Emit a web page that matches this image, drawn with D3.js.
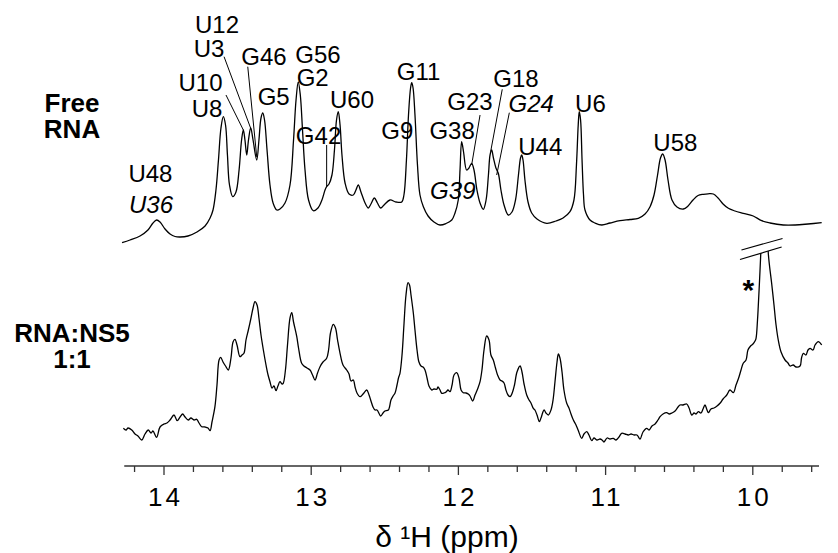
<!DOCTYPE html>
<html><head><meta charset="utf-8">
<script src="https://cdn.jsdelivr.net/npm/d3@7"></script>
<style>
html,body{margin:0;padding:0;background:#fff;}
svg text{font-family:"Liberation Sans",Arial,Helvetica,sans-serif;fill:#000;}
</style></head>
<body><svg id="c" width="838" height="553"></svg>
<script>
// ---------- DATA ----------
const ppmFree = [14.285,14.231,14.163,14.109,14.075,14.050,14.027,13.993,13.959,13.925,13.891,13.837,13.776,13.721,13.687,13.667,13.647,13.630,13.613,13.597,13.582,13.569,13.555,13.533,13.511,13.490,13.473,13.461,13.450,13.438,13.426,13.411,13.395,13.370,13.355,13.341,13.329,13.317,13.300,13.280,13.259,13.234,13.212,13.178,13.144,13.120,13.103,13.088,13.074,13.059,13.042,13.018,12.986,12.954,12.927,12.906,12.895,12.879,12.859,12.842,12.828,12.816,12.804,12.791,12.770,12.743,12.714,12.696,12.680,12.662,12.634,12.612,12.594,12.571,12.550,12.528,12.505,12.465,12.424,12.385,12.370,12.353,12.339,12.325,12.317,12.308,12.295,12.278,12.261,12.238,12.206,12.166,12.125,12.084,12.045,12.023,12.001,11.989,11.978,11.965,11.944,11.928,11.910,11.894,11.874,11.853,11.831,11.812,11.796,11.785,11.774,11.762,11.745,11.729,11.711,11.690,11.661,11.636,11.612,11.592,11.578,11.570,11.561,11.548,11.527,11.502,11.466,11.400,11.337,11.289,11.242,11.215,11.198,11.186,11.179,11.170,11.160,11.150,11.140,11.106,11.072,11.026,10.970,10.902,10.834,10.778,10.732,10.698,10.671,10.647,10.627,10.612,10.596,10.576,10.549,10.515,10.472,10.440,10.406,10.372,10.336,10.304,10.268,10.236,10.202,10.166,10.121,10.065,9.997,9.940,9.883,9.793,9.713,9.625,9.532];
const intFree = [0.3,3,7,13,20,23,21,14,9,6.5,6,7,11,17,25,33,53,83,115,126.3,118,88,58,46.3,51,73,103,113,103,88,103,115,103,83,103,125,130,123,93,58,40,33,34,40,58,103,143,161,148,113,73,43,32.3,35,43,53,56.3,59,68,93,123,131.3,118,88,60,49,48,53,58,51,40,35,39,45,40,35,38,43,41,41,48,83,128,155,160.3,155,128,78,48,36.3,27,21,18,19.5,23,30,43,73,101.3,91,73,75,79.7,73,53,40,33.7,43,68,88,93,85,75,69.7,53,38,28,31,43,68,85,88,83,63,41,30,24,19.7,22,25,31.3,43,78,118,131.3,123,83,48,33,23,20,18,20,22.3,23.5,24.7,29,36.3,48,68,85,89,83,63,43,36,34,37,43,47.5,48.7,49.2,49,45,39,34.7,32,29.7,27,22.3,20,18,18,19,20.3];

const ppmBound = [14.276,14.258,14.245,14.219,14.197,14.177,14.151,14.129,14.107,14.088,14.075,14.050,14.027,14.000,13.980,13.959,13.932,13.910,13.891,13.873,13.857,13.835,13.817,13.796,13.778,13.762,13.744,13.721,13.701,13.687,13.674,13.654,13.640,13.626,13.615,13.599,13.582,13.563,13.545,13.531,13.518,13.504,13.484,13.470,13.457,13.443,13.427,13.409,13.395,13.382,13.368,13.355,13.341,13.325,13.307,13.293,13.280,13.266,13.253,13.239,13.226,13.212,13.198,13.190,13.175,13.161,13.144,13.132,13.120,13.098,13.086,13.065,13.049,13.029,13.008,12.991,12.974,12.957,12.940,12.920,12.895,12.882,12.869,12.850,12.835,12.821,12.804,12.784,12.759,12.743,12.730,12.714,12.702,12.689,12.668,12.648,12.623,12.607,12.594,12.580,12.567,12.553,12.528,12.512,12.499,12.476,12.458,12.444,12.431,12.417,12.407,12.397,12.383,12.370,12.356,12.342,12.332,12.322,12.306,12.295,12.281,12.268,12.254,12.240,12.227,12.213,12.200,12.181,12.166,12.147,12.139,12.125,12.113,12.098,12.084,12.071,12.057,12.043,12.030,12.012,11.996,11.982,11.967,11.948,11.933,11.921,11.903,11.887,11.867,11.853,11.840,11.826,11.808,11.792,11.779,11.763,11.748,11.734,11.717,11.704,11.690,11.677,11.663,11.649,11.632,11.619,11.602,11.581,11.568,11.554,11.536,11.520,11.507,11.491,11.480,11.466,11.450,11.439,11.418,11.405,11.389,11.371,11.357,11.344,11.330,11.321,11.310,11.296,11.283,11.264,11.249,11.235,11.219,11.201,11.187,11.162,11.147,11.128,11.113,11.094,11.079,11.058,11.038,11.024,11.011,10.990,10.970,10.948,10.929,10.909,10.891,10.868,10.846,10.827,10.807,10.787,10.766,10.746,10.721,10.705,10.685,10.664,10.644,10.630,10.610,10.585,10.569,10.549,10.528,10.508,10.495,10.474,10.449,10.433,10.415,10.399,10.386,10.370,10.352,10.338,10.325,10.311,10.302,10.284,10.264,10.243,10.223,10.202,10.177,10.155,10.132,10.114,10.094,10.080,10.065,10.046,10.033,10.015,9.999,9.985,9.978,9.968,9.963,9.954,9.946,9.920,9.895,9.887,9.872,9.856,9.842,9.827,9.808,9.781,9.761,9.747,9.725,9.707,9.679,9.669,9.657,9.639,9.625,9.611,9.591,9.577,9.555,9.532];
const intBound = [11.7,10,12,10,6,4,0,6,10,7,9,2.7,13,16,17,20,25,19.3,23,26,23,20,22,20,20.7,17,13.3,13,12,9.3,18,33.3,55,80,82.7,78,74,70,82,98,100.7,95,83.3,85,86.7,100,110,122,132,138.3,135,122,105,90,75,65,58.3,52,54,49.3,54,58.3,56,56.7,70,95,122,127.3,118,103.3,92,76.7,74,72,70,65,60,67,73.3,78,81.7,90,107,115.7,112,100,86.7,75,70,66,59,60,53,47,43.3,46,50,45,39,33,30,30,24,27,29,30,40,44,46.7,55,62,66.7,85,115,145,157.3,155,145,126.7,110,90,78,74,73,70,62,54,50,51,50.7,53,50,46.7,47,48,50,48.3,55,65,67.3,62,50,47.3,47,46,44,39,45,52,58.3,70,90,104,100,85,80,72,65,60,59,57,50,45,43.3,48,55,68,74,68,56,45,40,37,31.7,30,25,18.3,22,30,27,25,30,40,58,78,86,82,68,50,36.7,32,26,20,15,10,1.7,6,8.3,5,-0.7,2,0,1,0,-2,2,1,1.7,0,3,6.7,6,5,6,5,5,1,8,11.7,10,14,16,20,23.3,26,27.3,26,27,29,33,35,35,36,32,25,27,26,28.3,27,31,35,30,27.3,31,32,34,36.7,41,45,50,47.3,55,63,70,76.7,80,90,94,96,99,101.7,120,133.3,160,186,270,187.3,175,156.7,135,115,100,88,80,77,74,75,73,74,82,86.7,85,90,91.7,90,95,98.3,95];

// peak assignments (free RNA): label, ppm, intensity (text anchor), italic, stack group
const labelText   = ["U12","U3","G46","U10","U8","G5","G56","G2","U60","G42","U48","U36","G11","G9","G38","G23","G18","G24","U44","G39","U6","U58"];
const labelPpm    = [13.640,13.694,13.321,13.752,13.708,13.255,12.954,12.990,12.723,12.950,14.092,14.088,12.270,12.415,12.043,11.921,11.609,11.505,11.444,12.038,11.103,10.526];
const labelInt    = [209.7,185.7,178,152.3,126.3,138,179.7,157,134.7,99,61.3,29.7,163,103.7,103.7,133,155.7,131.3,88,43.7,131.3,92.3];
const labelItalic = [false,false,false,false,false,false,false,false,false,false,false,true,false,false,false,false,false,true,false,true,false,false];
const labelGroup  = [0,0,1,2,2,3,4,4,5,6,7,7,8,9,10,11,12,13,14,15,16,17];

// leader lines: [ppm1, int1, ppm2, int2]
const leaderPpm1 = [13.592,13.431,13.579,12.895,11.853,11.702,11.654];
const leaderInt1 = [186.3,176.3,148,98,128,153.7,130.3];
const leaderPpm2 = [13.411,13.370,13.461,12.895,11.910,11.781,11.740];
const leaderInt2 = [114.7,86,113,56.3,78,91.3,68];

// axis break marks on the bound spectrum (ppm, intensity)
const breakPpm1 = [10.077, 10.087];
const breakInt1 = [190, 180.5];
const breakPpm2 = [9.798, 9.804];
const breakInt2 = [201.5, 193];

const majorTicks = [14, 13, 12, 11, 10];
const sampleLabels = [["Free","RNA"],["RNA:NS5","1:1"]];
const axisTitle = "δ ¹H (ppm)";

// ---------- CHART ----------
const svg = d3.select("#c");
const x = d3.scaleLinear().domain([14, 10]).range([164, 752.8]);
const yFree = d3.scaleLinear().domain([0, 160]).range([243, 83]);
const yBound = d3.scaleLinear().domain([0, 200]).range([440, 240]);
const axisY = 466;

// clip: hide the bound peak above the lower break line
const bx1 = x(breakPpm1[1]), by1 = yBound(breakInt1[1]);
const bx2 = x(breakPpm2[1]), by2 = yBound(breakInt2[1]);
const slope = (by2 - by1) / (bx2 - bx1);
const cxa = bx1 - 6, cxb = bx2 + 6;
const cya = by1 + slope * (cxa - bx1), cyb = by1 + slope * (cxb - bx1);
svg.append("clipPath").attr("id","brk").append("polygon")
  .attr("points", [[0,0],[cxa,0],[cxa,cya],[cxb,cyb],[cxb,0],[838,0],[838,553],[0,553]].map(p=>p.join(",")).join(" "));

const lineFree = d3.line().x(d=>x(d[0])).y(d=>yFree(d[1])).curve(d3.curveCatmullRom.alpha(0.5));
const lineBound = d3.line().x(d=>x(d[0])).y(d=>yBound(d[1])).curve(d3.curveCatmullRom.alpha(0.5));

svg.append("path").datum(d3.zip(ppmFree, intFree))
  .attr("d", lineFree).attr("fill","none").attr("stroke","#000").attr("stroke-width",1.3);
svg.append("path").datum(d3.zip(ppmBound, intBound))
  .attr("d", lineBound).attr("fill","none").attr("stroke","#000").attr("stroke-width",1.3)
  .attr("clip-path","url(#brk)");

// break marks
svg.selectAll("line.brk").data([0,1]).join("line").attr("class","brk")
  .attr("x1", i=>x(breakPpm1[i])).attr("y1", i=>yBound(breakInt1[i]))
  .attr("x2", i=>x(breakPpm2[i])).attr("y2", i=>yBound(breakInt2[i]))
  .attr("stroke","#000").attr("stroke-width",1.2);

// asterisk
svg.append("text").attr("x", x(10.031)).attr("y", yBound(140.5))
  .attr("text-anchor","middle").attr("font-size",30).attr("font-weight","bold").text("*");

// leader lines
svg.selectAll("line.ld").data(leaderPpm1.map((d,i)=>i)).join("line").attr("class","ld")
  .attr("x1", i=>x(leaderPpm1[i])).attr("y1", i=>yFree(leaderInt1[i]))
  .attr("x2", i=>x(leaderPpm2[i])).attr("y2", i=>yFree(leaderInt2[i]))
  .attr("stroke","#000").attr("stroke-width",1);

// peak labels (stacked labels share one text element)
const groups = d3.groups(labelText.map((d,i)=>i), i=>labelGroup[i]);
groups.forEach(([g, idx]) => {
  const t = svg.append("text").attr("class","pk").attr("text-anchor","middle").attr("font-size",24);
  idx.forEach(i => {
    t.append("tspan").attr("x", x(labelPpm[i])).attr("y", yFree(labelInt[i]))
      .attr("font-style", labelItalic[i] ? "italic" : "normal").text(labelText[i]);
  });
});

// sample labels
const sampleBase = [112, 342];
sampleLabels.forEach((lines, k) => {
  const t = svg.append("text").attr("text-anchor","middle").attr("font-size",26).attr("font-weight","bold");
  lines.forEach((s, j) => {
    t.append("tspan").attr("x", 72).attr("y", sampleBase[k] + j*26).text(s);
  });
});

// x axis
const xAxisScale = d3.scaleLinear().domain([14.27, 9.55]).range([x(14.27), x(9.55)]);
const gAx = svg.append("g").attr("transform", `translate(0,${axisY})`);
gAx.append("line").attr("x1", x(14.27)).attr("x2", x(9.55)).attr("y1",0).attr("y2",0)
  .attr("stroke","#333").attr("stroke-width",1.6);
const minor = d3.range(142, 95, -2).map(v => v/10);
gAx.selectAll("line.mn").data(minor).join("line").attr("class","mn")
  .attr("x1", d=>xAxisScale(d)).attr("x2", d=>xAxisScale(d))
  .attr("y1", 0).attr("y2", d => majorTicks.includes(d) ? 9 : 6)
  .attr("stroke","#333").attr("stroke-width",1.3);
gAx.selectAll("text.tl").data(majorTicks).join("text").attr("class","tl")
  .attr("x", d=>xAxisScale(d)+1.5).attr("y", 40)
  .attr("text-anchor","middle").attr("font-size",26).attr("letter-spacing","3px").text(d=>d);

svg.append("text").attr("x", 447).attr("y", 547).attr("text-anchor","middle")
  .attr("font-size",30).text(axisTitle);
</script></body></html>
